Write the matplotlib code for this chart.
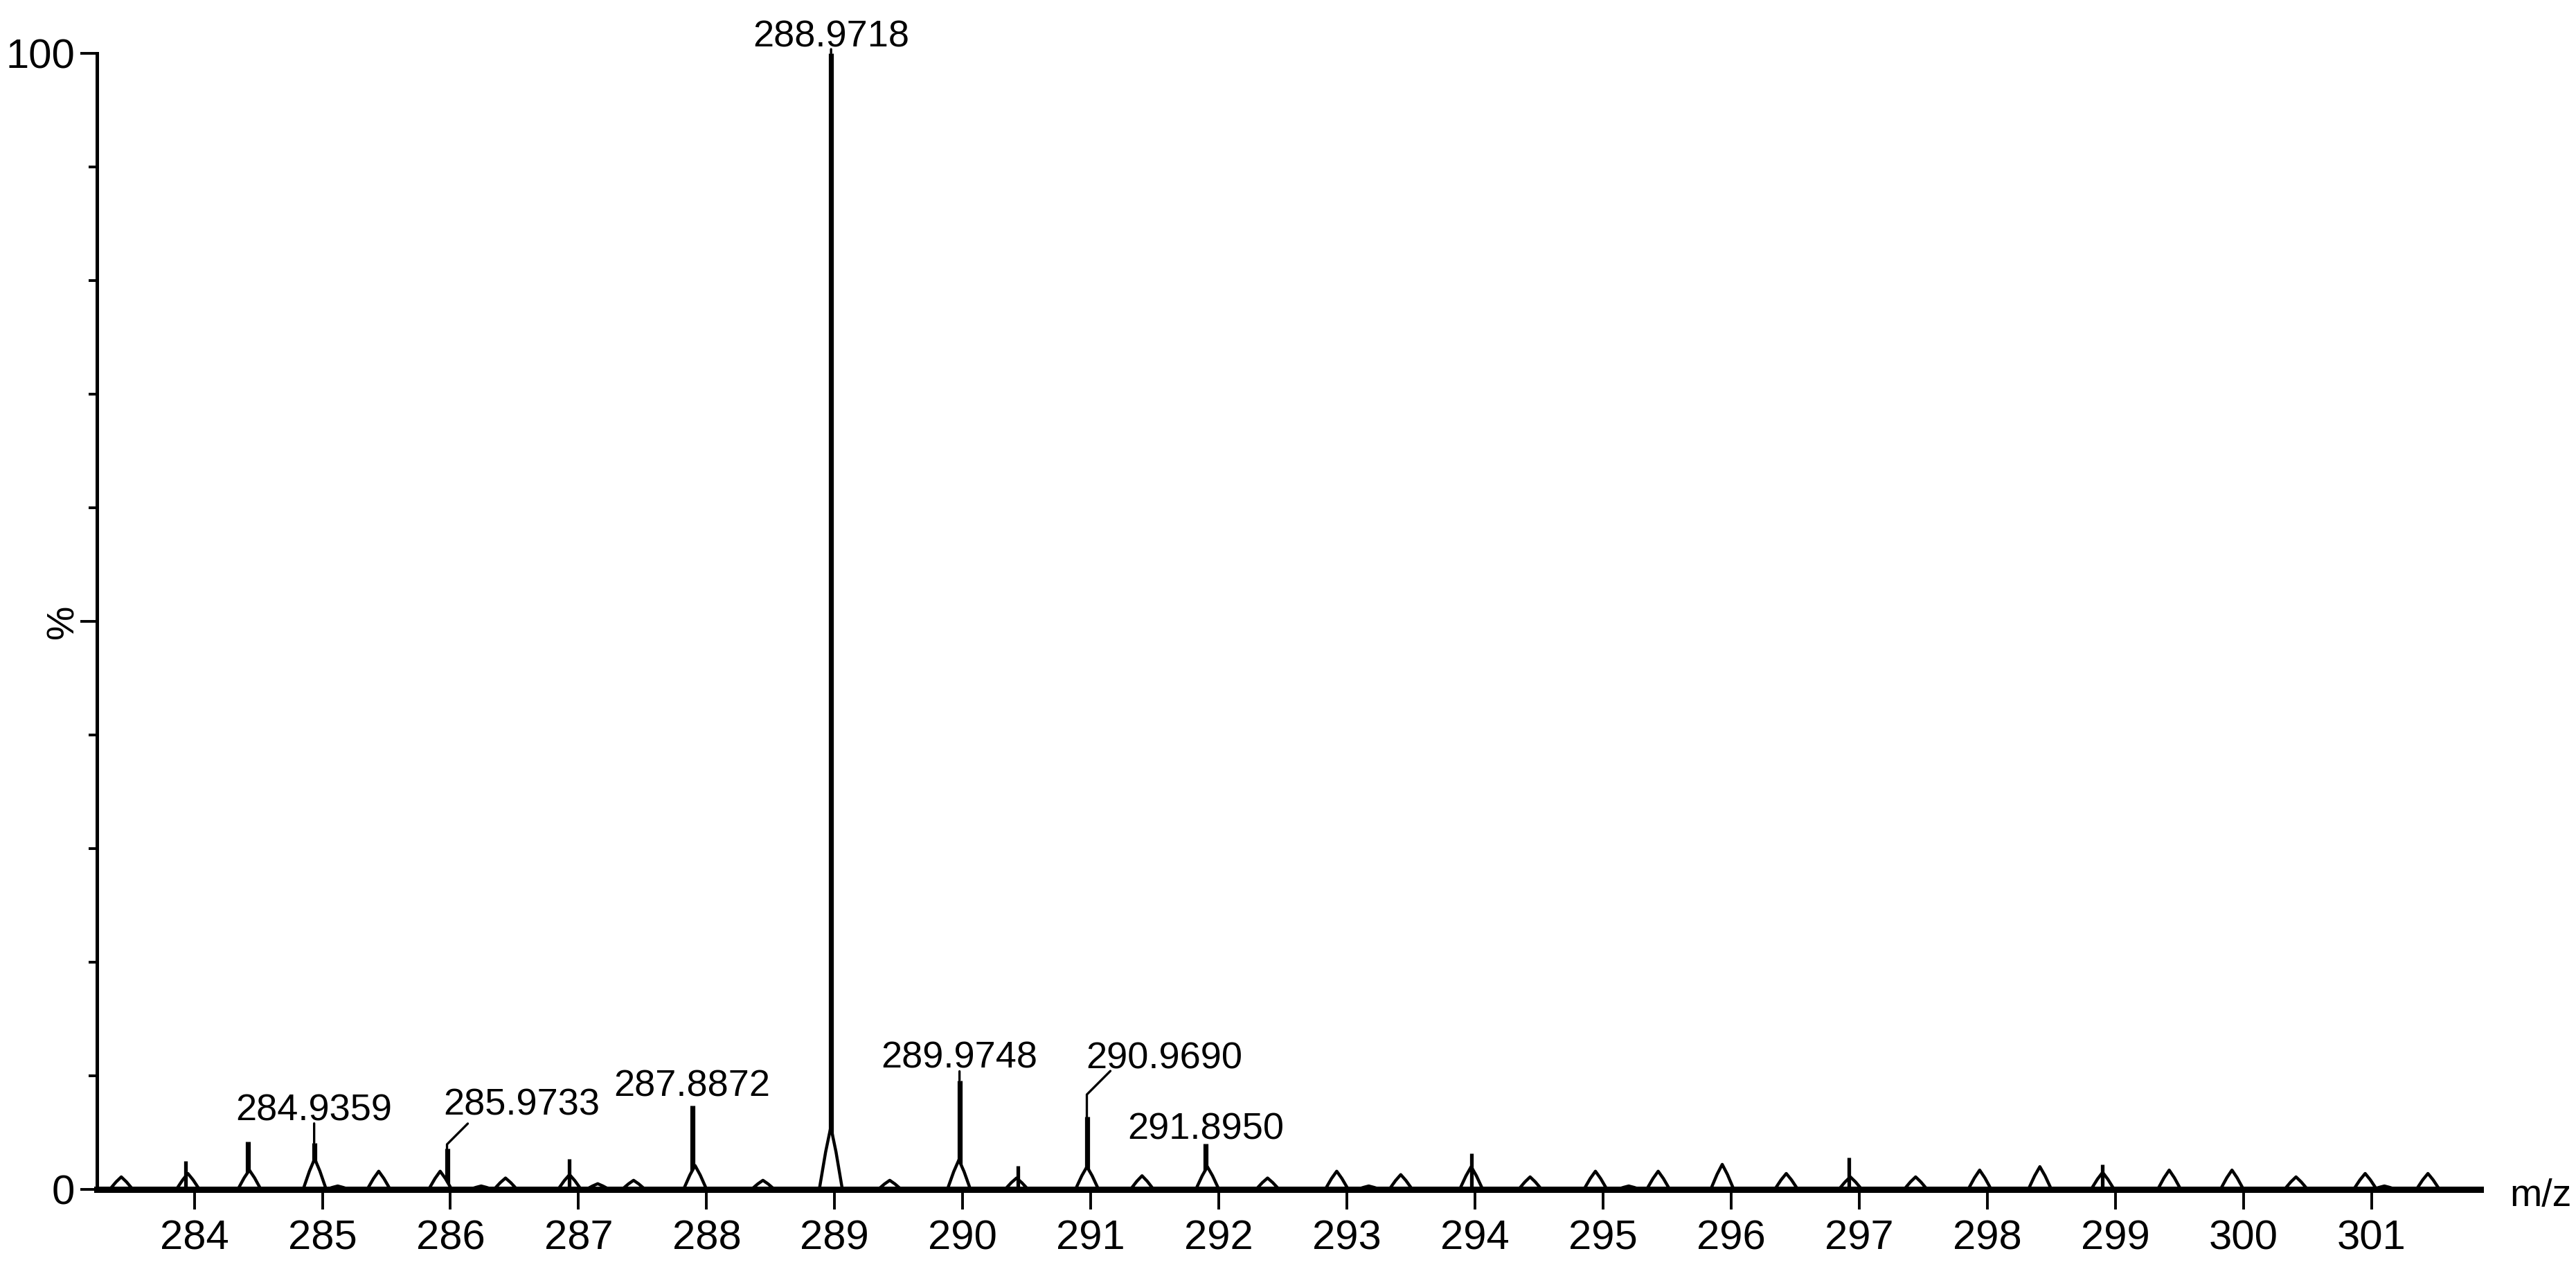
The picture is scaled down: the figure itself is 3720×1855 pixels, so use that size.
import matplotlib
matplotlib.use("Agg")
import matplotlib.pyplot as plt
from matplotlib.ticker import FixedLocator

plt.rcParams['font.family'] = ['Liberation Sans', 'DejaVu Sans']

# centroid sticks (m/z, relative intensity %)
stick_mz = [284.42, 284.9359, 285.9733, 287.8872, 288.9718, 289.9748, 290.9690, 291.8950]
stick_int = [4.2, 4.1, 3.6, 7.4, 100.0, 9.6, 6.4, 4.0]

# small spikes riding on the profile peaks
spike_mz = [283.93, 286.93, 290.43, 293.97, 296.92, 298.90]
spike_int = [2.5, 2.7, 2.1, 3.2, 2.8, 2.2]

# profile peaks (m/z, relative intensity %)
profile_mz = [283.43, 283.95, 284.43, 284.94, 285.12, 285.44, 285.92, 286.24, 286.43,
              286.93, 287.15, 287.43, 287.91, 288.44, 288.97, 289.43, 289.97, 290.42,
              290.97, 291.40, 291.91, 292.38, 292.92, 293.17, 293.42, 293.97, 294.43,
              294.94, 295.20, 295.43, 295.93, 296.43, 296.93, 297.44, 297.94, 298.41,
              298.90, 299.42, 299.91, 300.41, 300.95, 301.10, 301.44]
profile_int = [1.1, 1.4, 1.7, 2.7, 0.3, 1.6, 1.6, 0.3, 1.0,
               1.3, 0.5, 0.8, 2.1, 0.8, 5.5, 0.8, 2.6, 1.0,
               2.0, 1.2, 2.0, 1.0, 1.6, 0.3, 1.3, 2.0, 1.1,
               1.6, 0.3, 1.6, 2.2, 1.4, 1.1, 1.1, 1.7, 2.0,
               1.5, 1.7, 1.7, 1.1, 1.4, 0.3, 1.4]

# labelled peaks
label_mz = [284.9359, 285.9733, 287.8872, 288.9718, 289.9748, 290.9690, 291.8950]

x_ticks = list(range(284, 302))

# layout of the labels, in pixels: (text dx, text dy, leader dx, leader dy)
PX = 72 / 100
label_layout = {
    284.9359: (0, 32, 0, 28),
    285.9733: (108, 48, 30, 36),
    287.8872: (0, 13, 0, 0),
    288.9718: (0, 10, 0, 6),
    289.9748: (0, 18, 0, 13),
    290.9690: (112, 70, 34, 66),
    291.8950: (0, 7, 0, 0),
}
HALF_W = 0.09

fig = plt.figure(figsize=(37.2, 18.55), dpi=100)
ax = fig.add_axes([140 / 3720, 138 / 1855, 3442 / 3720, 1640 / 1855])

# profile made of small peaks
xs, ys = [283.24], [0]
for c, h in zip(profile_mz, profile_int):
    xs += [c - HALF_W, c - HALF_W * 0.45, c, c + HALF_W * 0.45, c + HALF_W]
    ys += [0, h * 0.6, h, h * 0.6, 0]
xs.append(301.85)
ys.append(0)

ax.vlines(stick_mz, 0, stick_int, color='black', lw=5.2, zorder=2)
ax.fill_between(xs, ys, color='white', zorder=3)
ax.plot(xs, ys, color='black', lw=3.2, zorder=4)
ax.vlines(spike_mz, 0, spike_int, color='black', lw=3.8, zorder=4)

for mz in label_mz:
    h = stick_int[stick_mz.index(mz)]
    tdx, tdy, ldx, ldy = label_layout[mz]
    if ldy > 0:
        if ldx == 0:
            cs = 'arc3'
        else:
            cs = 'angle,angleA=45,angleB=90,rad=0'
        ax.annotate('', xy=(mz, h), xytext=(ldx * PX, ldy * PX), textcoords='offset points',
                    arrowprops=dict(arrowstyle='-', lw=2.4, color='black',
                                    connectionstyle=cs, shrinkA=0, shrinkB=0),
                    annotation_clip=False)
    ax.annotate(f"{mz:.4f}", xy=(mz, h), xytext=(tdx * PX, tdy * PX), textcoords='offset points',
                ha='center', va='baseline', fontsize=39, annotation_clip=False)

ax.set_xlim(283.24, 301.85)
ax.set_ylim(0, 100)

for side in ['top', 'right']:
    ax.spines[side].set_visible(False)
ax.spines['bottom'].set_linewidth(6.5)
ax.spines['bottom'].set_zorder(5)
ax.spines['left'].set_linewidth(3.6)

ax.set_xticks(x_ticks)
ax.set_xticklabels([str(t) for t in x_ticks])
ax.tick_params(axis='x', direction='out', length=21, width=2.8, pad=10, labelsize=43)

ax.set_yticks([0, 50, 100])
ax.set_yticklabels(['0', '', '100'])
ax.yaxis.set_minor_locator(FixedLocator([10, 20, 30, 40, 60, 70, 80, 90]))
ax.tick_params(axis='y', which='major', direction='out', length=17, width=2.8, pad=6, labelsize=43)
ax.tick_params(axis='y', which='minor', direction='out', length=8.6, width=2.8)

ax.text(-0.0142, 0.5, '%', transform=ax.transAxes, rotation=90,
        ha='center', va='center', fontsize=40)
ax.text(1.0122, -0.006, 'm/z', transform=ax.transAxes, ha='left', va='center', fontsize=40)

fig.savefig('out.png', dpi=100, facecolor='white')
